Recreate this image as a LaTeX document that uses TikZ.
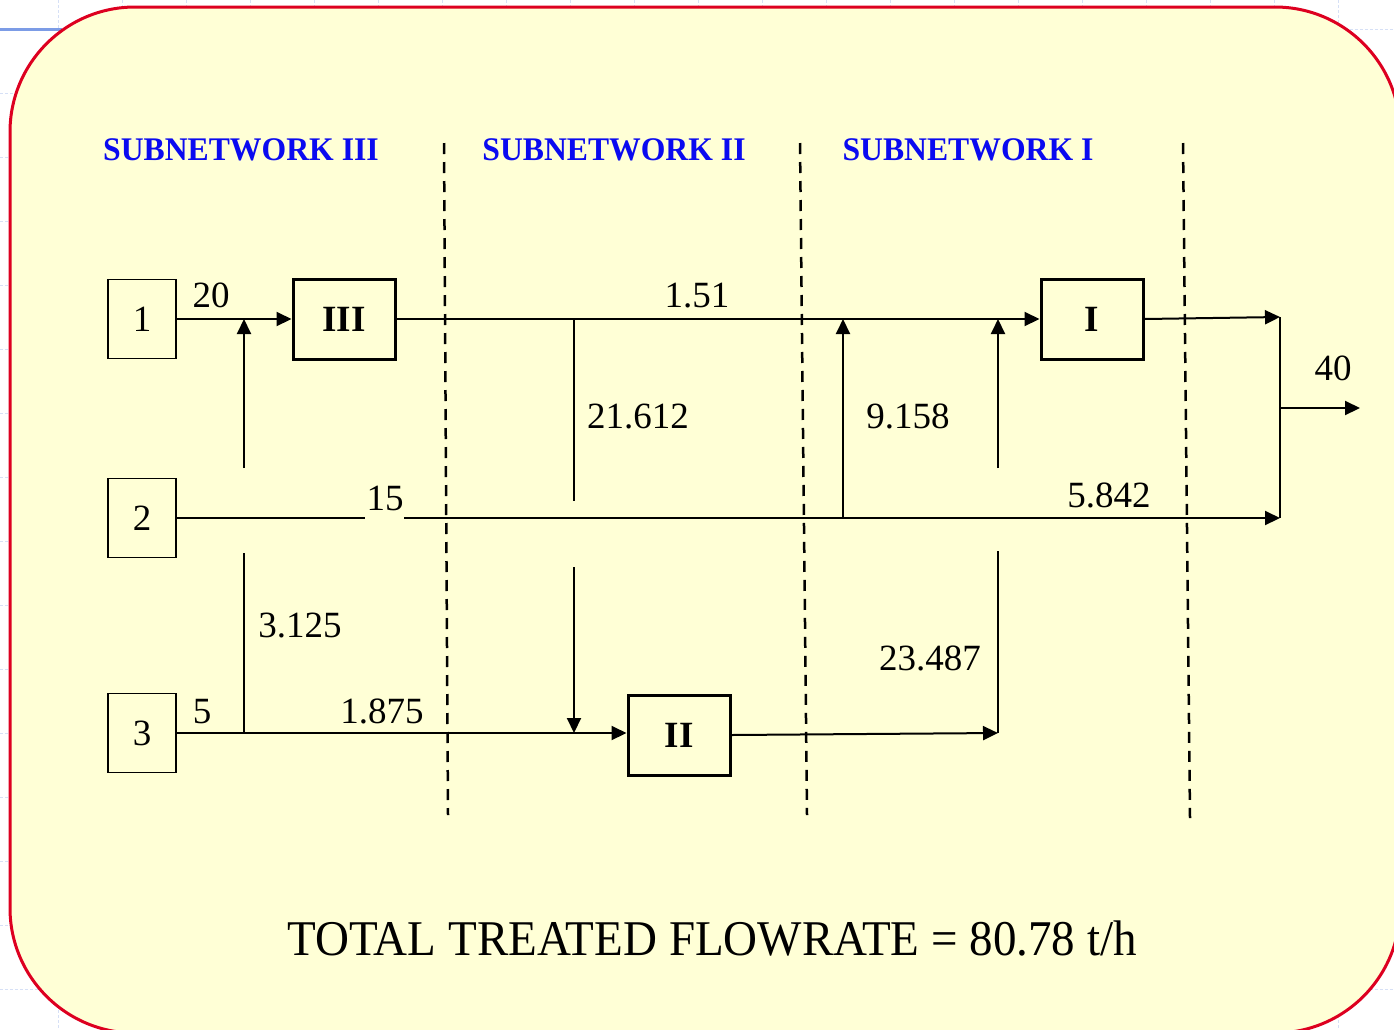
\documentclass[tikz,border=0pt]{standalone}
\usepackage{fontspec}
\setmainfont{Liberation Serif}
\usetikzlibrary{arrows.meta}

\definecolor{slidefill}{HTML}{FFFFD6}
\definecolor{slideedge}{HTML}{DD0020}
\definecolor{gridblue}{HTML}{D6E0F6}
\definecolor{railblue}{HTML}{7C9CE6}
\definecolor{netblue}{HTML}{0A0AF0}

\newcommand{\numfont}{\fontsize{37pt}{44pt}\selectfont}
\newcommand{\netfont}{\fontsize{33pt}{40pt}\selectfont\bfseries}
\newcommand{\totfont}{\fontsize{50pt}{60pt}\selectfont}

\begin{document}
\begin{tikzpicture}[x=1pt,y=-1pt,
  flow/.style={line width=2pt},
  arr/.style={flow,-{Triangle[length=15pt,width=14pt]}},
  src/.style={draw,line width=1.6pt,minimum width=68pt,minimum height=79pt,inner sep=0pt,font=\numfont},
  unit/.style={draw,line width=3pt,minimum width=102pt,minimum height=80pt,inner sep=0pt,font=\numfont\bfseries},
  val/.style={anchor=base,inner sep=0pt,font=\numfont},
  net/.style={anchor=base,inner sep=0pt,text=netblue,font=\netfont},
  divider/.style={line width=2.5pt,dash pattern=on 11pt off 8pt},
]
\useasboundingbox (0,0) rectangle (1394,1029);
\clip (0,0) rectangle (1394,1029);

% page grid and rail behind the panel
\foreach \gx in {58,122,...,1400}
  \draw[gridblue,line width=1pt,dash pattern=on 3pt off 2pt] (\gx,0) -- (\gx,1029);
\foreach \gy in {29,93,...,1029}
  \draw[gridblue,line width=1pt,dash pattern=on 3pt off 2pt] (0,\gy) -- (1394,\gy);
\draw[railblue,line width=3pt] (0,29) -- (62,29);

% panel
\draw[slideedge,line width=3pt,fill=slidefill,rounded corners=125pt] (10,7) rectangle (1400,1033);

% subnetwork headings
\node[net] (hIII) at (241,160) {\scalebox{0.96}[1]{SUBNETWORK III}};
\node[net] (hII)  at (614,160) {\scalebox{0.96}[1]{SUBNETWORK II}};
\node[net] (hI)   at (968,160) {\scalebox{0.96}[1]{SUBNETWORK I}};

% subnetwork boundaries
\draw[divider] (444,143) -- (448,815);
\draw[divider] (800,143) -- (807,815);
\draw[divider] (1183,143) -- (1190,818);

% sources and treatment units
\node[src] (s1) at (142,319) {1};
\node[src] (s2) at (142,518) {2};
\node[src] (s3) at (142,733) {3};
\node[unit] (u3) at (344,319) {III};
\node[unit] (u1) at (1092,319) {I};
\node[unit] (u2) at (679,735) {II};

% junction points
\coordinate (m1)   at (244,319);
\coordinate (t1)   at (244,468);
\coordinate (t2)   at (244,553);
\coordinate (j3)   at (244,733);
\coordinate (sp)   at (574,319);
\coordinate (spE)  at (574,501);
\coordinate (dn)   at (574,567);
\coordinate (dnE)  at (574,733);
\coordinate (q)    at (843,518);
\coordinate (qT)   at (843,319);
\coordinate (r)    at (998,468);
\coordinate (rT)   at (998,319);
\coordinate (rB)   at (998,551);
\coordinate (rIn)  at (998,733);
\coordinate (g1)   at (365,518);
\coordinate (g2)   at (404,518);
\coordinate (mxT)  at (1280,317);
\coordinate (mxB)  at (1280,518);
\coordinate (mxO)  at (1280,408);
\coordinate (out)  at (1360,408);

% streams
\draw[arr] (s1.east) -- (u3.west);
\draw[arr] (t1) -- (m1);
\draw[arr] (u3.east) -- (u1.west);
\draw[flow] (sp) -- (spE);
\draw[arr] (q) -- (qT);
\draw[arr] (r) -- (rT);
\draw[flow] (s2.east) -- (g1);
\draw[arr] (g2) -- (mxB);
\draw[arr] (u1.east) -- (mxT);
\draw[flow] (mxT) -- (mxB);
\draw[arr] (mxO) -- (out);
\draw[arr] (s3.east) -- (s3.east -| u2.west);
\draw[flow] (t2) -- (j3);
\draw[arr] (dn) -- (dnE);
\draw[arr] (u2.east) -- (rIn);
\draw[flow] (rIn) -- (rB);

% flowrates
\node[val] (f20)   at (211,307) {20};
\node[val] (f151)  at (697,307) {1.51};
\node[val] (f216)  at (638,428) {21.612};
\node[val] (f9)    at (908,428) {9.158};
\node[val] (f15)   at (385,510) {15};
\node[val] (f58)   at (1109,507) {5.842};
\node[val] (f40)   at (1333,380) {40};
\node[val] (f31)   at (300,637) {3.125};
\node[val] (f5)    at (202,723) {5};
\node[val] (f18)   at (382,723) {1.875};
\node[val] (f23)   at (930,670) {23.487};

% total
\node[anchor=base,inner sep=0pt,font=\totfont] (total) at (712,955)
  {\scalebox{0.94}[1]{TOTAL TREATED FLOWRATE = 80.78 t/h}};
\end{tikzpicture}
\end{document}
